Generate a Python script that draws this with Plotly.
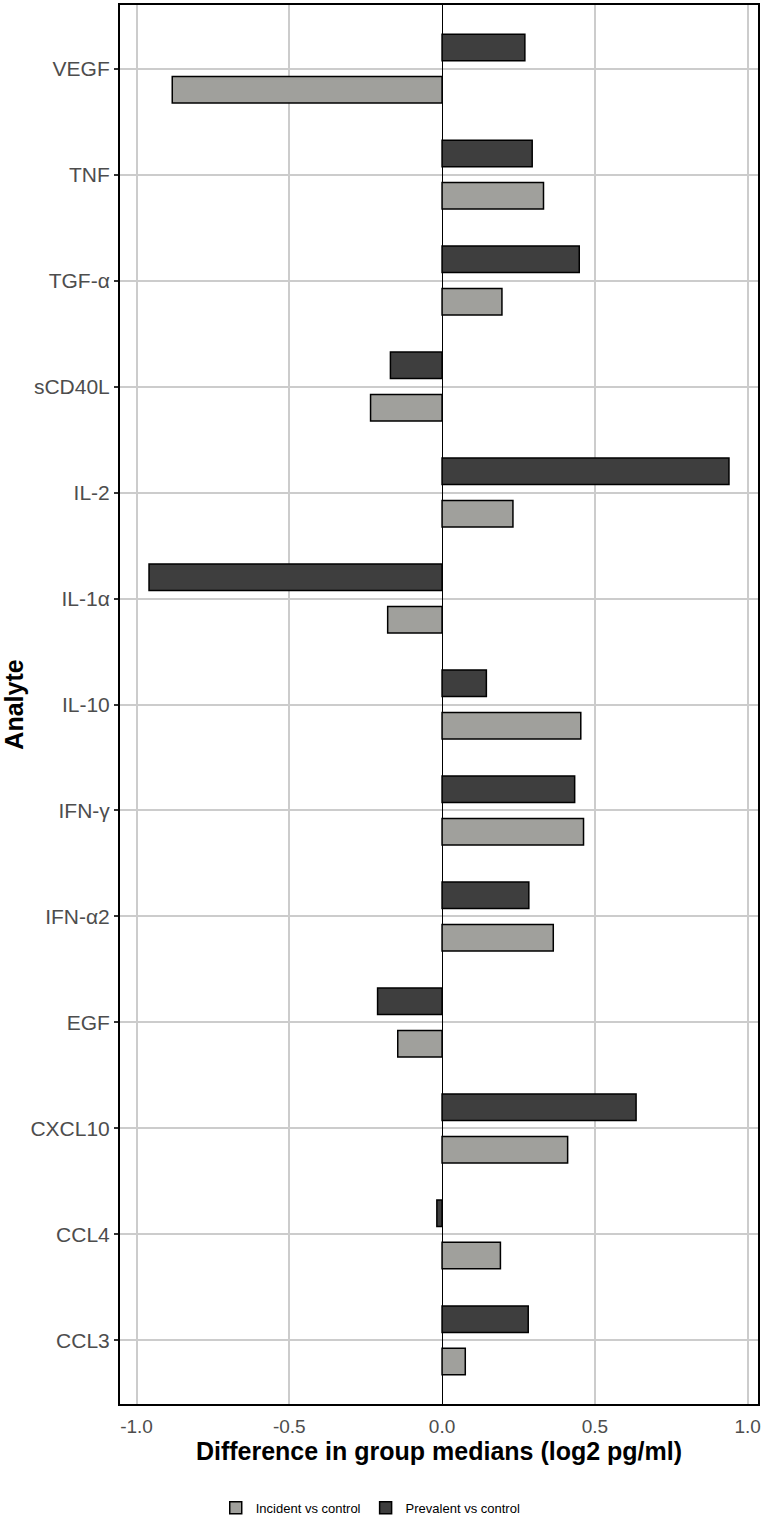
"""Horizontal grouped bars: difference in group medians per analyte."""

import plotly.graph_objects as go

ANALYTES = ['CCL3', 'CCL4', 'CXCL10', 'EGF', 'IFN-α2', 'IFN-γ', 'IL-10',
            'IL-1α', 'IL-2', 'sCD40L', 'TGF-α', 'TNF', 'VEGF']
INCIDENT = [0.076, 0.191, 0.411, -0.145, 0.364, 0.463, 0.454,
            -0.178, 0.232, -0.234, 0.196, 0.332, -0.883]
PREVALENT = [0.282, -0.017, 0.635, -0.211, 0.284, 0.434, 0.145,
             -0.959, 0.939, -0.169, 0.449, 0.295, 0.271]
X_TICKS = [-1.0, -0.5, 0.0, 0.5, 1.0]

LIGHT = '#a0a09c'
DARK = '#3e3e3e'
GRID = '#cccccc'
TICK_GREY = '#4d4d4d'
FONT = 'Liberation Sans, Arial, sans-serif'

fig = go.Figure()
for name, vals, color in [('Incident vs control', INCIDENT, LIGHT),
                          ('Prevalent vs control', PREVALENT, DARK)]:
    fig.add_trace(
        go.Bar(
            x=vals,
            y=ANALYTES,
            orientation='h',
            name=name,
            marker=dict(color=color, line=dict(color='black', width=1.5)),
        )
    )

fig.update_xaxes(
    range=[-1.054, 1.034],
    tickvals=X_TICKS,
    ticktext=[f'{v:.1f}' for v in X_TICKS],
    tickfont=dict(size=19, color=TICK_GREY, family=FONT),
    showgrid=True, gridcolor=GRID, gridwidth=2,
    zeroline=True, zerolinecolor='black', zerolinewidth=1.2,
    showline=True, linecolor='black', linewidth=2, mirror=True,
    ticks='outside', ticklen=4, tickcolor='rgba(0,0,0,0)',
    title=dict(text='<b>Difference in group medians (log2 pg/ml)</b>',
               font=dict(size=25, color='black', family=FONT), standoff=2),
)
fig.update_yaxes(
    type='category',
    categoryorder='array',
    categoryarray=ANALYTES,
    range=[-0.6, 12.6],
    tickfont=dict(size=21, color=TICK_GREY, family=FONT),
    showgrid=True, gridcolor=GRID, gridwidth=2,
    showline=True, linecolor='black', linewidth=2, mirror=True,
    ticks='outside', ticklen=4, tickwidth=1.5, tickcolor='#333333',
    title=dict(text='<b>Analyte</b>',
               font=dict(size=25, color='black', family=FONT), standoff=9),
)

fig.update_layout(
    width=764,
    height=1526,
    barmode='group',
    bargap=0.2,
    bargroupgap=0.375,
    plot_bgcolor='white',
    paper_bgcolor='white',
    font=dict(family=FONT),
    margin=dict(l=120, r=6, t=3, b=122),
    legend=dict(
        orientation='h',
        x=0.393, xanchor='center',
        y=-0.0742, yanchor='middle',
        font=dict(size=13, color='black', family=FONT),
        traceorder='normal',
        itemwidth=30,
    ),
)

# the page's default body margin would shift the figure by 8px
fig.write_html(
    'out.html',
    config={'displayModeBar': False},
    post_script="document.body.style.margin = '0';",
)
